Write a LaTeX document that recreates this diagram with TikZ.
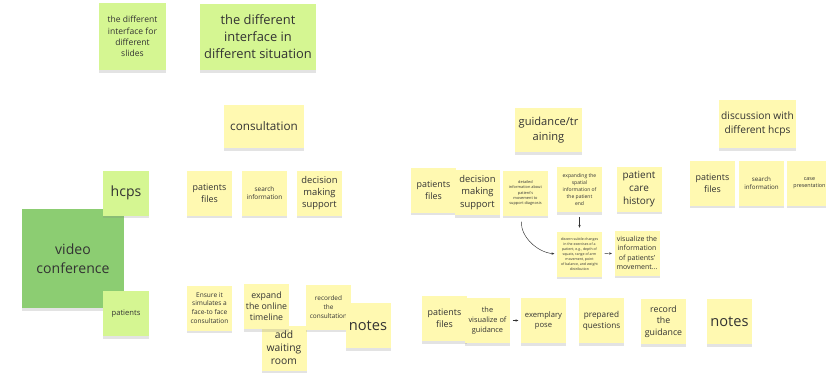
\documentclass[tikz,border=0pt]{standalone}
\usepackage{fontspec}
\setmainfont{Open Sans}
\usetikzlibrary{shadows,arrows.meta}
\definecolor{stickyyellow}{HTML}{FFF9B1}
\definecolor{stickylime}{HTML}{D5F692}
\definecolor{stickygreen}{HTML}{8CCD72}
\definecolor{inkgray}{HTML}{333333}
\tikzset{
  sticky/.style={fill=stickyyellow, minimum width=1.35cm, minimum height=1.35cm, inner sep=1pt, align=center, text=inkgray,
    drop shadow={shadow xshift=0pt, shadow yshift=-2.5pt, opacity=.22}},
  limesticky/.style={sticky, fill=stickylime},
  fs/.style n args={2}{font=\fontsize{#1}{#2}\selectfont},
  link/.style={draw=inkgray, thin, -{Stealth[length=2.5pt,width=2pt]}, shorten <=2pt, shorten >=2pt}
}
\begin{document}
\begin{tikzpicture}[x=0.03cm, y=-0.03cm]
\useasboundingbox (0,0) rectangle (826,378);
\node[limesticky, minimum width=2.01cm, minimum height=2.01cm, fs={7.3}{9.6}] (slides) at (132.5,36.5){the different\\interface for\\different\\slides};
\node[limesticky, minimum width=3.48cm, minimum height=1.98cm, fs={11}{14.6}] (situation) at (258,37){the different\\interface in\\different situation};

\node[limesticky, minimum width=3.06cm, minimum height=2.97cm, fill=stickygreen, fs={12}{16}] (video) at (73,258.5){video\\conference};
\node[limesticky, fs={12}{15}] (hcps) at (126,193){hcps};
\node[limesticky, fs={6.5}{8.5}] (patients) at (126,313.5){patients};

\node[sticky, minimum width=2.4cm, minimum height=1.29cm, fs={10}{13}] (consult) at (264,126.5){consultation};
\node[sticky, fs={7.6}{10}] (cfiles) at (209.5,193){patients\\files};
\node[sticky, fs={5.5}{7.5}] (csearch) at (264.5,193){search\\information};
\node[sticky, fs={8}{10.5}] (cdecision) at (319.5,193){decision\\making\\support};
\node[sticky, fs={5.6}{7.6}] (ensure) at (209.5,308){Ensure it\\simulates a\\face-to face\\consultation};
\node[sticky, fs={8.8}{11.2}] (waiting) at (284,348){add\\waiting\\room};
\node[sticky, fs={7.5}{9.5}] (expand) at (266.5,306.5){expand\\the online\\timeline};
\node[sticky, fs={5.5}{7.6}] (recorded) at (328.5,307){recorded\\the\\consultation};
\node[sticky, fs={12.5}{15}] (cnotes) at (368,325.5){notes};

\node[sticky, minimum width=2.01cm, minimum height=1.32cm, fs={9.5}{12.8}] (guidance) at (548.5,130){guidance/tr\\aining};
\node[sticky, fs={7.6}{10}] (gfiles) at (433.5,190){patients\\files};
\node[sticky, fs={8}{10.5}] (gdecision) at (477.5,192.5){decision\\making\\support};
\node[sticky, fs={3.3}{4.6}] (detailed) at (525.5,193){detailed\\information about\\patient's\\movement to\\support diagnosis};
\node[sticky, fs={4.3}{5.9}] (spatial) at (579.5,189.5){expanding the\\spatial\\information of\\the patient\\end};
\node[sticky, fs={8.5}{11}] (history) at (639,189){patient\\care\\history};
\node[sticky, fs={3}{4.2}] (discern) at (579.5,254){discern subtle changes\\in the exercises of a\\patient, e.g., depth of\\squats, range of arm\\movement, point\\of balance, and weight\\distribution};
\node[sticky, fs={6}{8}] (movement) at (637,253){visualize the\\information\\of patients'\\movement...};
\node[sticky, fs={7.6}{10}] (bfiles) at (444.5,318.5){patients\\files};
\node[sticky, fs={6.3}{8.5}] (visguide) at (487.5,320.5){the\\visualize of\\guidance};
\node[sticky, fs={6.5}{8.6}] (pose) at (543.5,320.5){exemplary\\pose};
\node[sticky, fs={7}{9.3}] (questions) at (601.5,320.5){prepared\\questions};
\node[sticky, fs={7.5}{10}] (recguide) at (663.5,321.5){record\\the\\guidance};
\node[sticky, fs={12.5}{15}] (gnotes) at (729.5,321.5){notes};

\node[sticky, minimum width=2.31cm, minimum height=1.44cm, fs={8.7}{11.6}] (discussion) at (757.5,124){discussion with\\different hcps};
\node[sticky, fs={7.6}{10}] (dfiles) at (712.5,183){patients\\files};
\node[sticky, fs={5.3}{7.3}] (dsearch) at (761.5,183){search\\information};
\node[sticky, fs={4.6}{6.5}] (case) at (809.5,183){case\\presentation};

\draw[link, shorten <=4pt, shorten >=3pt] (spatial) -- (discern);
\draw[link, shorten <=5pt] ([xshift=-3pt]detailed.south) to[out=-95, in=175] (discern.west);
\draw[link] (discern) -- (movement);
\draw[link] (visguide) -- (pose);
\end{tikzpicture}
\end{document}
